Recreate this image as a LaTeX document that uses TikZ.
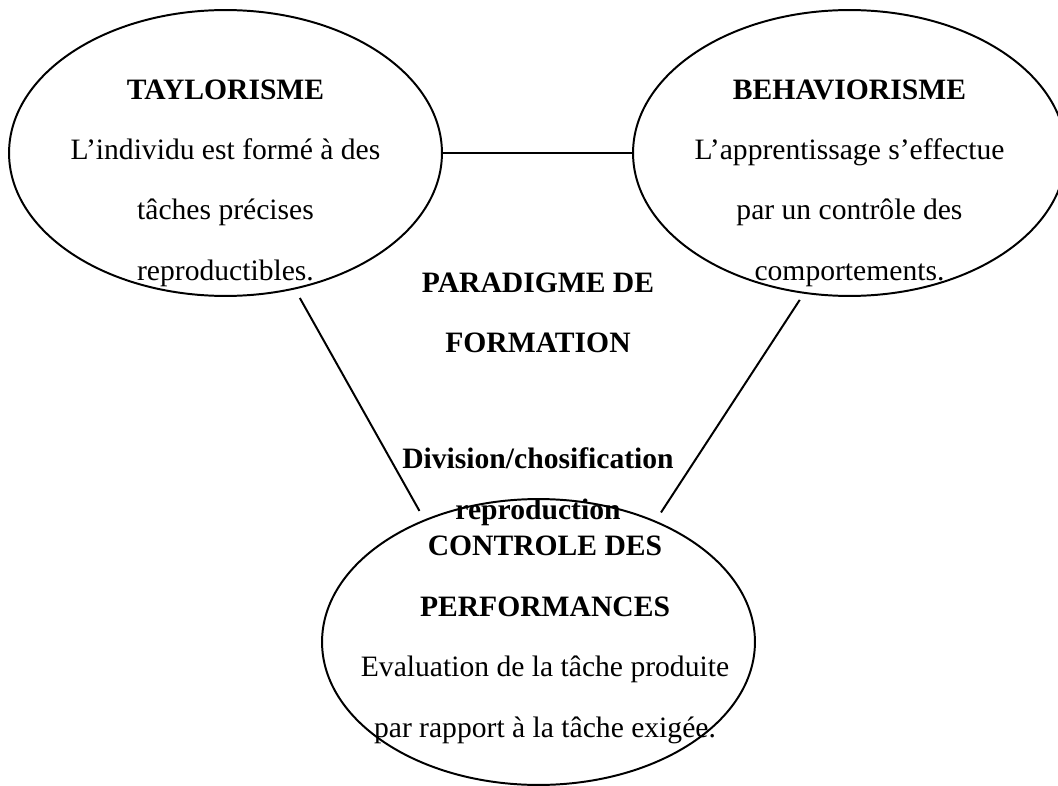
\documentclass[tikz,border=0pt]{standalone}
\usepackage{fontspec}
\setmainfont{Liberation Serif}
\usetikzlibrary{shapes.geometric}
\tikzset{
	paradigm/.style={ellipse, draw, line width=0.8pt, minimum width=175.5pt, minimum height=115.9pt, inner sep=0pt},
	ptext/.style={align=center, font=\fontsize{12}{24.5}\selectfont}
}
\begin{document}
\begin{tikzpicture}[x=0.4054pt, y=-0.4054pt]
		\useasboundingbox (0,0) rectangle (1058,786);
		\node [paradigm] (tay) at (225.5,153) {};
		\node [paradigm] (beh) at (849.5,153) {};
		\node [paradigm] (ctl) at (538.5,642) {};
		\node [ptext] (tayt) at (225.5,183) {\textbf{TAYLORISME}\\L’individu est formé à des\\tâches précises\\reproductibles.};
		\node [ptext] (beht) at (849.5,183) {\textbf{BEHAVIORISME}\\L’apprentissage s’effectue\\par un contrôle des\\comportements.};
		\node [ptext] (ctlt) at (545,640) {\textbf{CONTROLE DES}\\\textbf{PERFORMANCES}\\Evaluation de la tâche produite\\par rapport à la tâche exigée.};
		\node [ptext] (par) at (538,313) {\textbf{PARADIGME DE}\\\textbf{FORMATION}};
		\node [ptext, font=\fontsize{12}{20.7}\selectfont] (div) at (538,487) {\textbf{Division/chosification}\\\textbf{reproduction}};
		\path[line width=0.8pt]
					(tay) edge (beh)
					(tay.-63.4) edge[shorten <=4pt, shorten >=4pt] (ctl.133.1)
					(beh.-108) edge[shorten <=3pt, shorten >=4pt] (ctl.46.9);
	\end{tikzpicture}
\end{document}
